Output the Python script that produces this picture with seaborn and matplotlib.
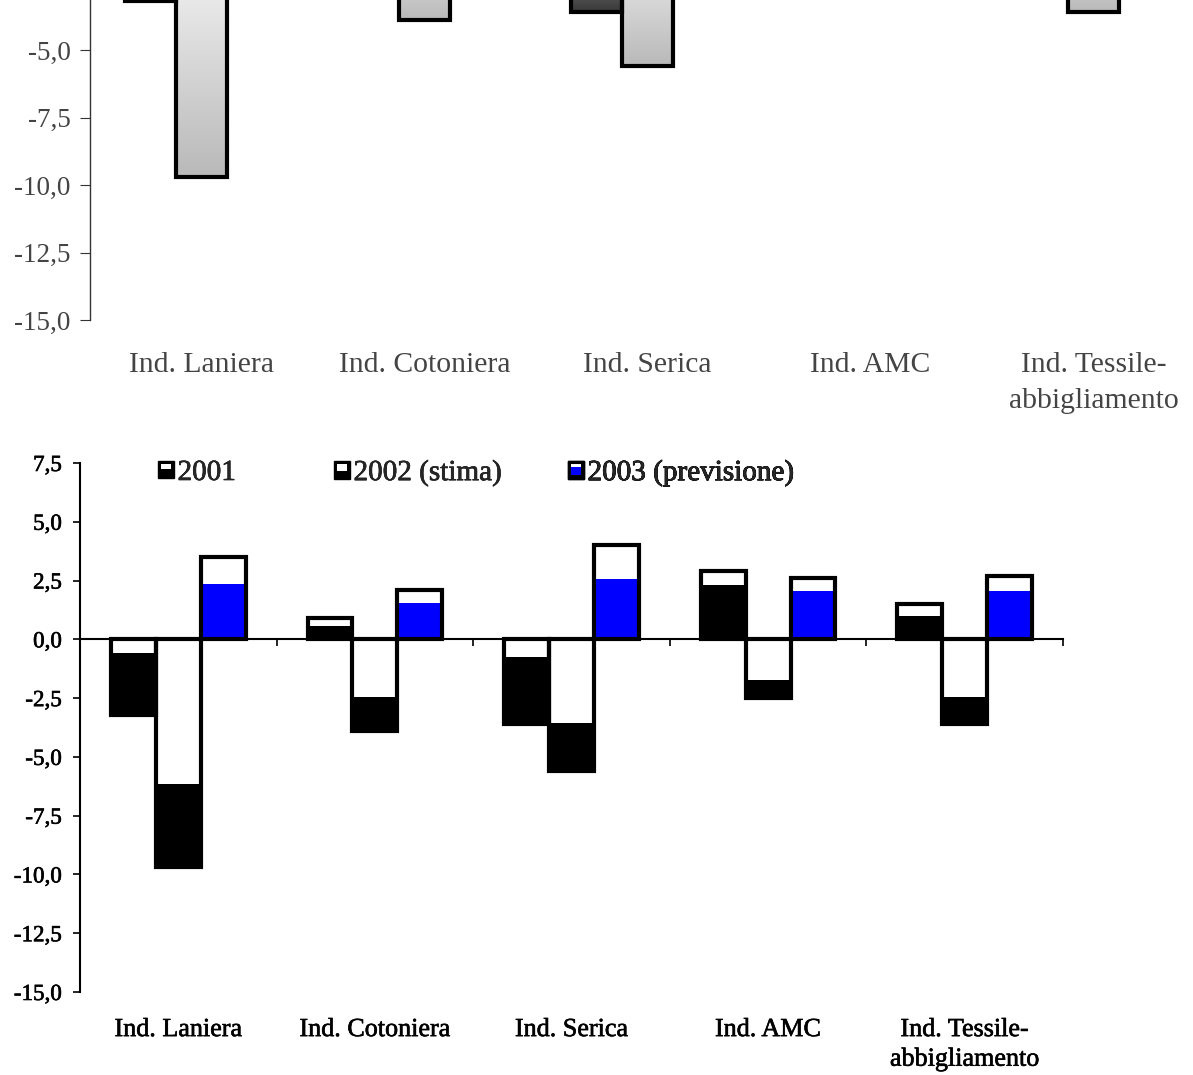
import numpy as np
import pandas as pd
import matplotlib
matplotlib.use("Agg")
import matplotlib.pyplot as plt
import matplotlib.patheffects as pe
import seaborn as sns
from matplotlib.colors import LinearSegmentedColormap
from matplotlib.legend_handler import HandlerBase
from matplotlib.patches import Patch, Rectangle
from matplotlib.ticker import FuncFormatter

# ---------------------------------------------------------------- data
categories = ["Ind. Laniera", "Ind. Cotoniera", "Ind. Serica", "Ind. AMC",
              "Ind. Tessile-\nabbigliamento"]
series = ["2001", "2002 (stima)", "2003 (previsione)"]

v2001 = [-3.2, 0.9, -3.6, 2.9, 1.5]
v2002 = [-9.7, -3.9, -5.6, -2.5, -3.6]
v2003 = [3.5, 2.1, 4.0, 2.6, 2.7]

# level at which each bar's white band gives way to the solid fill
tone2001 = [-0.6, 0.55, -0.75, 2.3, 1.0]
tone2002 = [-6.15, -2.45, -3.55, -1.75, -2.45]
tone2003 = [2.35, 1.55, 2.55, 2.05, 2.05]

yticks_full = [7.5, 5.0, 2.5, 0.0, -2.5, -5.0, -7.5, -10.0, -12.5, -15.0]
yticks_lower_part = [-5.0, -7.5, -10.0, -12.5, -15.0]
boundaries = [0.5, 1.5, 2.5, 3.5, 4.5]

rows = []
for s, vals, tones in zip(series, [v2001, v2002, v2003], [tone2001, tone2002, tone2003]):
    for c, v, t in zip(categories, vals, tones):
        rows.append({"settore": c, "serie": s, "valore": v, "tono": t})
df = pd.DataFrame(rows)

# ---------------------------------------------------------------- style
sns.set_style("white")
plt.rcParams["font.family"] = ["Liberation Serif", "DejaVu Serif"]

W, H = 1193, 1075
fig = plt.figure(figsize=(W / 100, H / 100), dpi=100)
fig.patch.set_facecolor("white")

comma = FuncFormatter(lambda v, _: f"{v:.1f}".replace(".", ","))


def draw_bars(ax, col, **kw):
    sns.barplot(data=df, x="settore", y=col, hue="serie", order=categories,
                hue_order=series, width=0.685, gap=0, dodge=True, legend=False,
                errorbar=None, ax=ax, palette=["#888888"] * 3, **kw)
    return ax.containers[-3:]


def frame_axes(ax, yticks, axis_color, axis_lw, tick_len, tick_pad, ylab_size,
               xlab_size, xlab_pad, text_color, linespacing):
    ax.set_xlim(-0.5, 4.5)
    ax.set_ylim(-15, 7.5)
    ax.set_xlabel("")
    ax.set_ylabel("")
    for side in ("top", "right", "bottom"):
        ax.spines[side].set_visible(False)
    ax.spines["left"].set_color(axis_color)
    ax.spines["left"].set_linewidth(axis_lw)
    ax.set_yticks(yticks)
    ax.yaxis.set_major_formatter(comma)
    ax.tick_params(axis="y", left=True, direction="out", length=tick_len,
                   width=axis_lw * 0.8, color=axis_color, pad=tick_pad,
                   labelsize=ylab_size, labelcolor=text_color)
    ax.set_xticks(range(len(categories)), categories)
    ax.tick_params(axis="x", bottom=True, length=0, pad=xlab_pad,
                   labelsize=xlab_size, labelcolor=text_color)
    for lbl in ax.get_xticklabels():
        lbl.set_linespacing(linespacing)
    # category axis crossing at zero, with ticks between the groups
    zero = ax.secondary_xaxis(0, transform=ax.transData)
    zero.set_xticks(boundaries, labels=[""] * len(boundaries))
    zero.tick_params(direction="out", length=tick_len, width=axis_lw * 0.8,
                     color=axis_color)
    zero.spines["bottom"].set_color(axis_color)
    zero.spines["bottom"].set_linewidth(axis_lw)
    ax.grid(False)


# ---------------------------------------------------------------- upper chart (gradient fills)
axt = fig.add_axes([90 / W, 1 - 320 / H, 1115 / W, 607.5 / H])
grad_colors = {
    "2001": ("#d2d2d2", "#383838"),
    "2002 (stima)": ("#ffffff", "#b9b9b9"),
    "2003 (previsione)": ("#d2d9ff", "#2b3fcc"),
}
conts = draw_bars(axt, "valore")
ramp = np.linspace(0, 1, 256).reshape(-1, 1)
for s, cont in zip(series, conts):
    cmap = LinearSegmentedColormap.from_list(s, grad_colors[s])
    for p in cont:
        x0, w = p.get_x(), p.get_width()
        y0, h = p.get_y(), p.get_height()
        lo, hi = sorted([y0, y0 + h])
        im = axt.imshow(ramp, extent=(x0, x0 + w, lo, hi), origin="upper",
                        aspect="auto", cmap=cmap, zorder=0.9)
        im.set_clip_path(p)
        p.set_facecolor("none")
        p.set_edgecolor("black")
        p.set_linewidth(3)
        p.set_zorder(1)
frame_axes(axt, yticks_lower_part, "#333333", 1.0, 7, 7, 19.5, 21.3, 23,
           "#444444", 1.5)
axt.set_aspect("auto")

# ---------------------------------------------------------------- lower chart (two-tone fills)
axb = fig.add_axes([80 / W, 1 - 992 / H, 983 / W, 529 / H])
solid = {"2001": "#000000", "2002 (stima)": "#000000", "2003 (previsione)": "#0000ff"}

full = draw_bars(axb, "valore", linewidth=0)
for s, cont in zip(series, full):
    for p in cont:
        p.set_facecolor("white" if p.get_height() > 0 else solid[s])
        p.set_edgecolor("none")

tone = draw_bars(axb, "tono", linewidth=0)
for s, cont, fcont in zip(series, tone, full):
    for p, pf in zip(cont, fcont):
        p.set_facecolor(solid[s] if pf.get_height() > 0 else "white")
        p.set_edgecolor("none")

edges = draw_bars(axb, "valore")
for cont in edges:
    for p in cont:
        p.set_facecolor("none")
        p.set_edgecolor("black")
        p.set_linewidth(3)

frame_axes(axb, yticks_full, "black", 1.5, 5, 8, 16.6, 18.8, 19.5, "black", 1.45)

heavy = [pe.withStroke(linewidth=0.45, foreground="black")]
for lbl in axb.get_xticklabels() + axb.get_yticklabels():
    lbl.set_path_effects(heavy)


class SplitSwatch(HandlerBase):
    """Square key: black frame, solid core and a white band on top."""

    def __init__(self, core, band):
        super().__init__()
        self.core = core
        self.band = band

    def create_artists(self, legend, orig_handle, xdescent, ydescent,
                       width, height, fontsize, trans):
        x, y = -xdescent, -ydescent
        m = 0.2 * width
        frame = Rectangle((x, y), width, height, facecolor="black",
                          edgecolor="black", linewidth=1, transform=trans)
        core = Rectangle((x + m, y + m), width - 2 * m, height - 2 * m,
                         facecolor=self.core, edgecolor="none", transform=trans)
        ih = height - 2 * m
        band = Rectangle((x + m, y + m + ih * (1 - self.band)), width - 2 * m,
                         ih * self.band, facecolor="white", edgecolor="none",
                         transform=trans)
        return [frame, core, band]


bands = {"2001": 0.4, "2002 (stima)": 0.6, "2003 (previsione)": 0.22}
key_left = {"2001": 158, "2002 (stima)": 334, "2003 (previsione)": 568}
for s in series:
    h = Patch(label=s)
    leg = axb.legend(handles=[h], labels=[s],
                     handler_map={h: SplitSwatch(solid[s], bands[s])},
                     loc="center left",
                     bbox_to_anchor=(key_left[s] / W, 1 - 473 / H),
                     bbox_transform=fig.transFigure, frameon=False,
                     fontsize=21, handlelength=0.55, handleheight=0.55,
                     handletextpad=0.12, borderpad=0, borderaxespad=0)
    for t in leg.get_texts():
        t.set_path_effects(heavy)
    axb.add_artist(leg)

fig.savefig("out.png", dpi=100, facecolor="white")
